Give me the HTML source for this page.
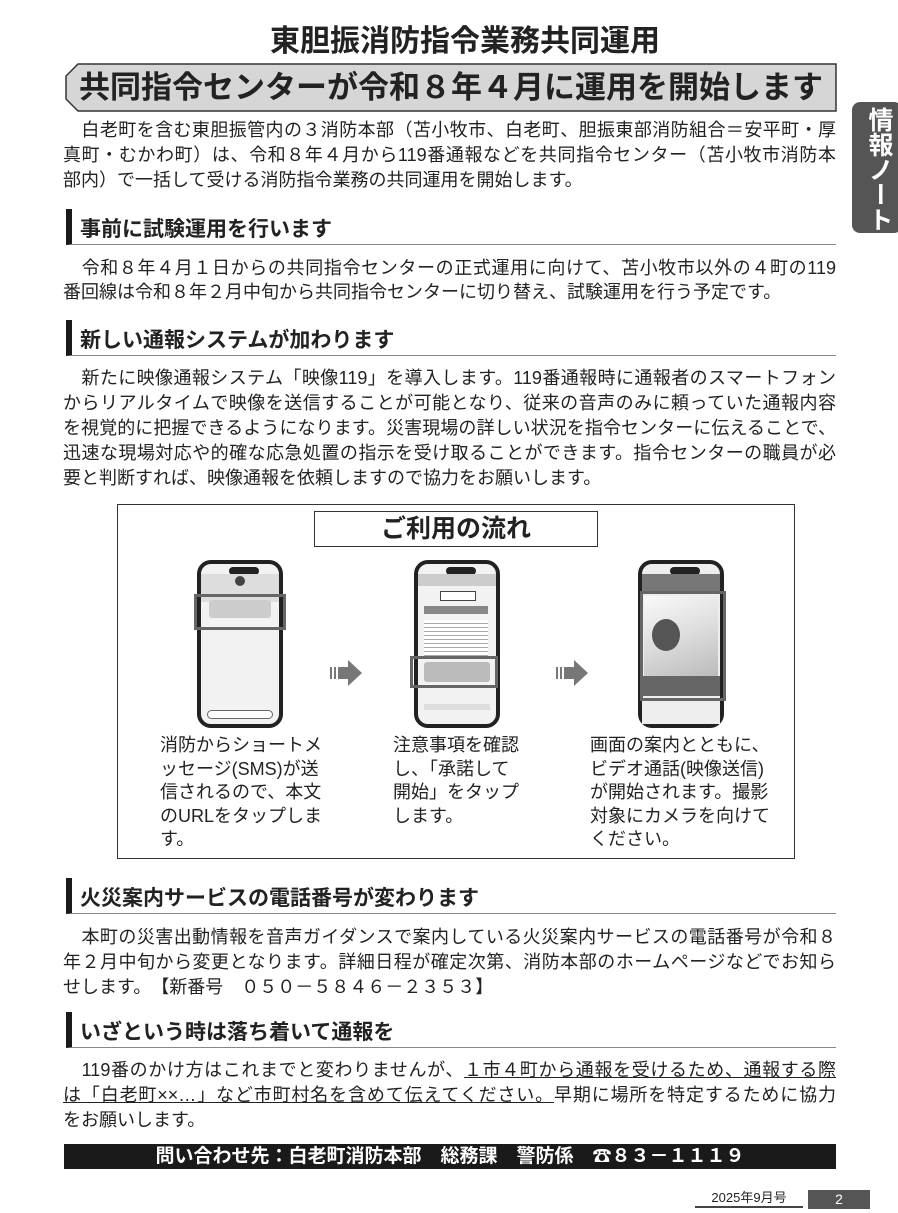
<!DOCTYPE html>
<html><head><meta charset="utf-8"><style>
*{margin:0;padding:0;box-sizing:border-box}
body{width:898px;height:1213px;background:#fff;position:relative;overflow:hidden;font-family:"Liberation Sans","Noto Sans CJK JP",sans-serif;color:#222}
.a{position:absolute}
.l{position:absolute;left:63px;width:773px;font-size:18px;line-height:24px;height:24px;text-align:justify;text-align-last:justify;overflow:visible}
.s{text-align-last:left}
.h{position:absolute;left:66px;width:770px;height:36px;border-left:6px solid #1a1a1a;border-bottom:1px solid #888}
.h span{position:absolute;left:8px;top:4px;font-size:21px;font-weight:bold;white-space:nowrap}
.c{position:absolute;font-size:18px;line-height:23.5px;white-space:nowrap}
.ph{position:absolute;width:86px;height:168px;border:4px solid #222;border-radius:14px;background:#f2f2f2}
.ph .n{position:absolute;left:28px;top:3px;width:30px;height:8px;background:#222;border-radius:5px}
.hl{position:absolute;border:3px solid #666}
.ar{position:absolute;width:32px;height:26px}
</style></head><body>
<div class="a" style="left:0;top:20px;width:930px;text-align:center;font-size:30px;font-weight:bold;line-height:44px">東胆振消防指令業務共同運用</div>
<svg class="a" style="left:0;top:0" width="898" height="120"><polygon points="78,64 836,64 836,111 78,111 66,99 66,76" fill="#d6d6d6" stroke="#333" stroke-width="1.5"/></svg>
<div class="a" style="left:66px;top:64px;width:770px;height:47px;text-align:center;font-size:31px;font-weight:bold;line-height:47px;white-space:nowrap">共同指令センターが令和８年４月に運用を開始します</div>
<div class="a" style="left:852px;top:102px;width:50px;height:131px;background:#555;border-radius:8px;color:#fff;font-size:25px;font-weight:bold;writing-mode:vertical-rl;text-align:center;line-height:46px;padding-top:4px">情報ノート</div>

<div class="l" style="top:118px">　白老町を含む東胆振管内の３消防本部（苫小牧市、白老町、胆振東部消防組合＝安平町・厚</div>
<div class="l" style="top:143px">真町・むかわ町）は、令和８年４月から119番通報などを共同指令センター（苫小牧市消防本</div>
<div class="l s" style="top:168px">部内）で一括して受ける消防指令業務の共同運用を開始します。</div>

<div class="h" style="top:209px"><span>事前に試験運用を行います</span></div>
<div class="l" style="top:256px">　令和８年４月１日からの共同指令センターの正式運用に向けて、苫小牧市以外の４町の119</div>
<div class="l s" style="top:280px">番回線は令和８年２月中旬から共同指令センターに切り替え、試験運用を行う予定です。</div>

<div class="h" style="top:320px"><span>新しい通報システムが加わります</span></div>
<div class="l" style="top:366px">　新たに映像通報システム「映像119」を導入します。119番通報時に通報者のスマートフォン</div>
<div class="l" style="top:391px">からリアルタイムで映像を送信することが可能となり、従来の音声のみに頼っていた通報内容</div>
<div class="l" style="top:416px">を視覚的に把握できるようになります。災害現場の詳しい状況を指令センターに伝えることで、</div>
<div class="l" style="top:441px">迅速な現場対応や的確な応急処置の指示を受け取ることができます。指令センターの職員が必</div>
<div class="l s" style="top:466px">要と判断すれば、映像通報を依頼しますので協力をお願いします。</div>

<div class="a" style="left:117px;top:504px;width:678px;height:355px;border:1px solid #333"></div>
<div class="a" style="left:314px;top:511px;width:284px;height:36px;border:1px solid #333;text-align:center;font-size:25px;font-weight:bold;line-height:34px">ご利用の流れ</div>

<div class="ph" style="left:197px;top:560px"><div class="n"></div>
<div class="a" style="left:0;top:10px;width:78px;height:28px;background:#ddd"></div>
<div class="a" style="left:34px;top:12px;width:10px;height:10px;border-radius:50%;background:#444"></div>
<div class="a" style="left:8px;top:36px;width:62px;height:18px;background:#ccc;border-radius:3px"></div>
<div class="a" style="left:6px;top:146px;width:66px;height:9px;border:1px solid #666;border-radius:5px;background:#fff"></div>
</div>
<div class="hl" style="left:194px;top:594px;width:92px;height:36px"></div>

<div class="ph" style="left:414px;top:560px"><div class="n"></div>
<div class="a" style="left:0;top:10px;width:78px;height:12px;background:#ccc"></div>
<div class="a" style="left:22px;top:27px;width:36px;height:10px;border:1px solid #444;background:#fff"></div>
<div class="a" style="left:6px;top:42px;width:64px;height:8px;background:#888"></div>
<div class="a" style="left:6px;top:56px;width:64px;height:36px;background:repeating-linear-gradient(#fff 0 3px,#aaa 3px 4px)"></div>
<div class="a" style="left:6px;top:98px;width:66px;height:20px;background:#bbb;border-radius:3px"></div>
<div class="a" style="left:6px;top:140px;width:66px;height:6px;background:#ddd"></div>
</div>
<div class="hl" style="left:410px;top:656px;width:88px;height:32px"></div>

<div class="ph" style="left:638px;top:560px;background:#eee"><div class="n"></div>
<div class="a" style="left:0;top:10px;width:78px;height:20px;background:#777"></div>
<div class="a" style="left:2px;top:32px;width:74px;height:80px;background:linear-gradient(160deg,#fafafa,#ddd 50%,#bbb)"></div>
<div class="a" style="left:10px;top:55px;width:28px;height:32px;background:#555;border-radius:50%"></div>
<div class="a" style="left:0;top:112px;width:78px;height:20px;background:#666"></div>
<div class="a" style="left:0;top:132px;width:78px;height:28px;background:#eee"></div>
</div>
<div class="hl" style="left:640px;top:591px;width:86px;height:110px"></div>

<svg class="ar" style="left:330px;top:660px" viewBox="0 0 32 26"><rect x="0" y="7" width="2" height="12" fill="#777"/><rect x="4" y="7" width="2" height="12" fill="#777"/><rect x="8" y="7" width="10" height="12" fill="#777"/><polygon points="18,0 32,13 18,26" fill="#777"/></svg>
<svg class="ar" style="left:556px;top:660px" viewBox="0 0 32 26"><rect x="0" y="7" width="2" height="12" fill="#777"/><rect x="4" y="7" width="2" height="12" fill="#777"/><rect x="8" y="7" width="10" height="12" fill="#777"/><polygon points="18,0 32,13 18,26" fill="#777"/></svg>

<div class="c" style="left:160px;top:734px">消防からショートメ<br>ッセージ(SMS)が送<br>信されるので、本文<br>のURLをタップしま<br>す。</div>
<div class="c" style="left:393px;top:734px">注意事項を確認<br>し、「承諾して<br>開始」をタップ<br>します。</div>
<div class="c" style="left:590px;top:734px">画面の案内とともに、<br>ビデオ通話(映像送信)<br>が開始されます。撮影<br>対象にカメラを向けて<br>ください。</div>

<div class="h" style="top:878px"><span>火災案内サービスの電話番号が変わります</span></div>
<div class="l" style="top:925px">　本町の災害出動情報を音声ガイダンスで案内している火災案内サービスの電話番号が令和８</div>
<div class="l" style="top:950px">年２月中旬から変更となります。詳細日程が確定次第、消防本部のホームページなどでお知ら</div>
<div class="l s" style="top:975px">せします。　【新番号　０５０－５８４６－２３５３】</div>

<div class="h" style="top:1012px"><span>いざという時は落ち着いて通報を</span></div>
<div class="l" style="top:1058px">　119番のかけ方はこれまでと変わりませんが、<u>１市４町から通報を受けるため、通報する際</u></div>
<div class="l" style="top:1083px"><u>は「白老町××…」など市町村名を含めて伝えてください。</u>早期に場所を特定するために協力</div>
<div class="l s" style="top:1108px">をお願いします。</div>

<div class="a" style="left:64px;top:1144px;width:772px;height:25px;background:#1a1a1a;color:#fff;text-align:center;font-size:19px;font-weight:bold;line-height:25px;white-space:nowrap">問い合わせ先：白老町消防本部　総務課　警防係　☎８３－１１１９</div>

<div class="a" style="left:695px;top:1190px;width:108px;height:18px;border-bottom:2px solid #444;font-size:13px;text-align:center;line-height:16px">2025年9月号</div>
<div class="a" style="left:808px;top:1190px;width:62px;height:19px;background:#555;color:#fff;font-size:14px;text-align:center;line-height:19px">2</div>
</body></html>
